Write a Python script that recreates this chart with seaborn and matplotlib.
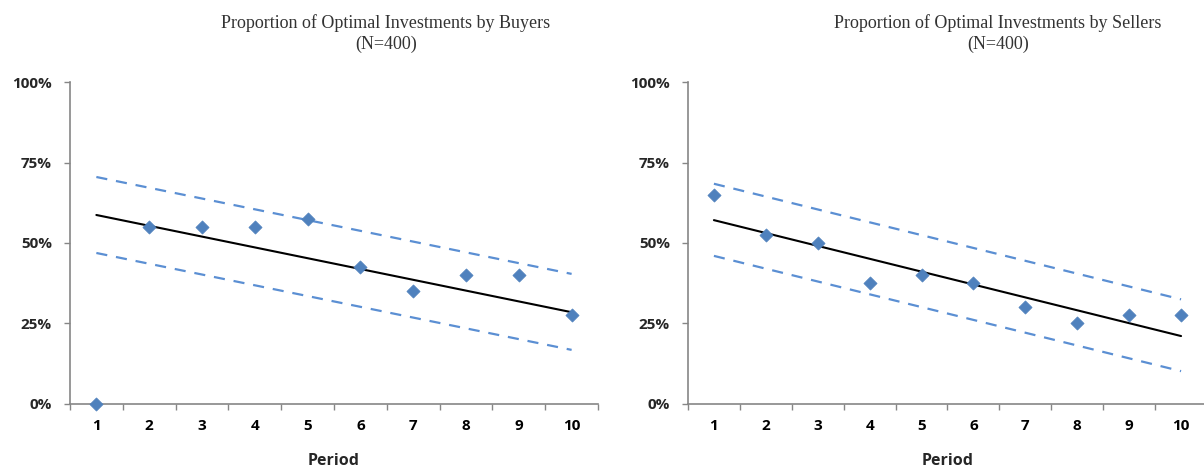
import matplotlib
matplotlib.use("Agg")
import matplotlib.pyplot as plt
from matplotlib.ticker import FixedLocator, PercentFormatter
import seaborn as sns
import pandas as pd

sns.set_theme(style="white")
plt.rcParams["font.family"] = ["Open Sans", "DejaVu Sans"]

periods = list(range(1, 11))
buyers = [0.0, 55.0, 55.0, 55.0, 57.5, 42.5, 35.0, 40.0, 40.0, 27.5]
sellers = [65.0, 52.5, 50.0, 37.5, 40.0, 37.5, 30.0, 25.0, 27.5, 27.5]

# trend line and bands, read at period 1 and period 10
trend_x = [1, 10]
buyers_fit = [58.7, 28.5]
buyers_upper = [70.5, 40.4]
buyers_lower = [46.9, 16.8]
sellers_fit = [57.1, 21.1]
sellers_upper = [68.4, 32.5]
sellers_lower = [46.0, 10.2]

titles = ["Proportion of Optimal Investments by Buyers\n(N=400)",
          "Proportion of Optimal Investments by Sellers\n(N=400)"]

blue = "#4F81BD"
dash_blue = "#5B8FD3"
grey = "#868686"

fig = plt.figure(figsize=(12.04, 4.76), dpi=100)
ax1 = fig.add_axes([0.0581, 0.1513, 0.4386, 0.6764])
ax2 = fig.add_axes([0.5714, 0.1513, 0.4311, 0.6764])

panels = [
    (ax1, buyers, buyers_fit, buyers_upper, buyers_lower, 0.3205),
    (ax2, sellers, sellers_fit, sellers_upper, sellers_lower, 0.8290),
]

for i, (ax, vals, fit, up, lo, tx) in enumerate(panels):
    pts = pd.DataFrame({"period": periods, "value": vals})
    for band in (up, lo):
        sns.lineplot(x=trend_x, y=band, ax=ax, color=dash_blue, lw=1.6,
                     linestyle=(0, (5, 4)))
    sns.lineplot(x=trend_x, y=fit, ax=ax, color="black", lw=1.5)
    sns.scatterplot(data=pts, x="period", y="value", ax=ax, marker="D",
                    s=45, color=blue, edgecolor=blue, linewidth=0.5, zorder=5,
                    clip_on=False)

    ax.set_xlim(0.5, 10.5)
    ax.set_ylim(0, 100)
    ax.set_yticks([0, 25, 50, 75, 100])
    ax.yaxis.set_major_formatter(PercentFormatter(decimals=0))
    ax.set_xticks(periods)
    ax.set_xticklabels([str(p) for p in periods])
    ax.xaxis.set_minor_locator(FixedLocator([p - 0.5 for p in periods] + [10.5]))
    ax.tick_params(axis="x", which="major", length=0, pad=11,
                   labelsize=11, colors="black")
    ax.tick_params(axis="x", which="minor", length=4, width=1, color=grey,
                   direction="out", bottom=True)
    ax.tick_params(axis="y", length=4.5, width=1, color=grey, direction="out",
                   left=True, labelsize=11, pad=8.5)
    for lab in ax.get_xticklabels() + ax.get_yticklabels():
        lab.set_fontweight("bold")
    for side in ("top", "right"):
        ax.spines[side].set_visible(False)
    for side in ("left", "bottom"):
        ax.spines[side].set_color(grey)
        ax.spines[side].set_linewidth(1.2)
    ax.set_xlabel("Period", fontsize=11.5, fontweight="bold", labelpad=14)
    ax.set_ylabel("")
    fig.text(tx, 0.97, titles[i], ha="center", va="top",
             family=["Liberation Serif", "DejaVu Serif"], fontsize=13,
             color="#333333", linespacing=1.25)

fig.savefig("out.png", dpi=100)
